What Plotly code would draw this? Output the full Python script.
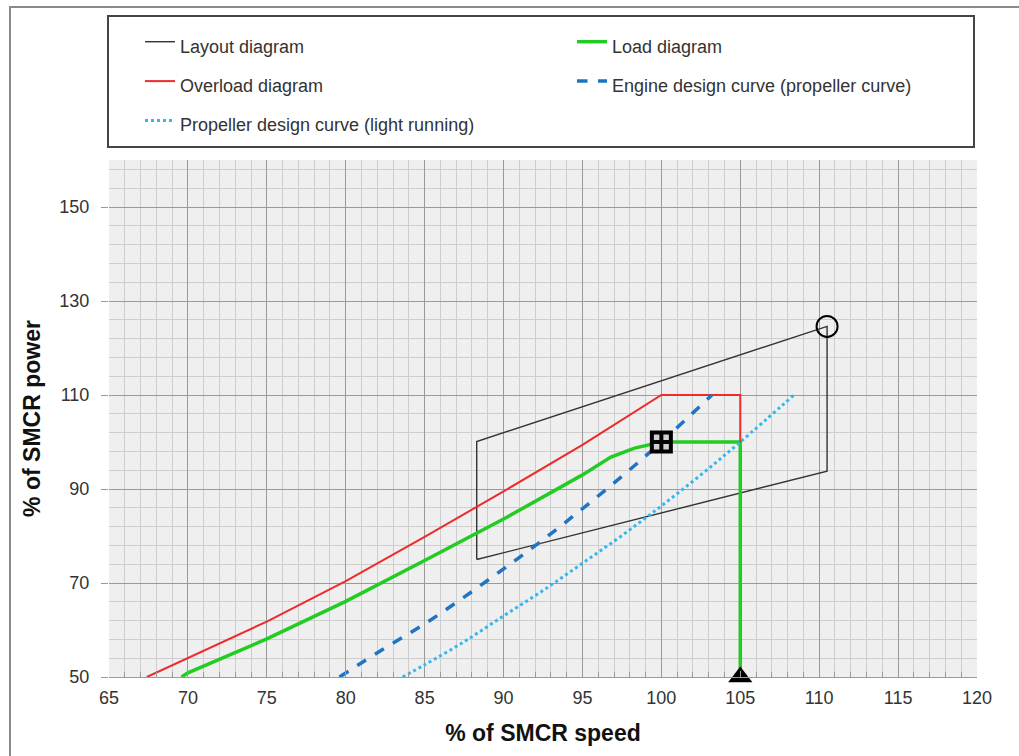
import plotly.graph_objects as go

# ---------------- data ----------------
layout_x = [88.3, 88.3, 110.5, 110.5, 88.3]
layout_y = [75.0, 100.1, 124.6, 93.8, 75.0]

load_x = [69.6, 70, 75, 80, 85, 90, 95, 96.8, 98.3, 100, 105, 105]
load_y = [50.0, 50.9, 58.1, 66.1, 74.8, 83.6, 93.0, 96.8, 98.7, 100, 100, 50]

overload_x = [67.4, 70, 75, 80, 85, 90, 95, 100, 105, 105]
overload_y = [50.0, 54.0, 61.8, 70.4, 79.8, 89.5, 99.4, 110, 110, 100]

engine_x = [79.6, 82.5, 85, 87.5, 90, 92.5, 95, 97.5, 100, 103.2]
engine_y = [50.0, 56.2, 61.3, 67.0, 73.0, 79.2, 85.8, 92.7, 100, 110]

light_x = [83.6, 85, 87.5, 90, 92.5, 95, 97.5, 100, 102.5, 105, 108.5]
light_y = [50.0, 52.6, 57.5, 63.0, 68.4, 74.2, 80.1, 86.4, 93.0, 100, 110.3]

smcr_x, smcr_y = [100], [100]          # square marker
speed_x, speed_y = [105], [50]         # triangle marker
lmp_x, lmp_y = [110.5], [124.6]        # open circle marker

x_ticks = [65, 70, 75, 80, 85, 90, 95, 100, 105, 110, 115, 120]
y_ticks = [50, 70, 90, 110, 130, 150]

FONT = "Liberation Sans, Arial, sans-serif"


def lg(t):
    return f'<span style="font-size:18px">{t}</span>'


fig = go.Figure()
fig.add_trace(go.Scatter(x=layout_x, y=layout_y, mode="lines", name=lg("Layout diagram"),
                         line=dict(color="#333333", width=1.4)))
fig.add_trace(go.Scatter(x=load_x, y=load_y, mode="lines", name=lg("Load diagram"),
                         line=dict(color="#22cc22", width=3.5)))
fig.add_trace(go.Scatter(x=overload_x, y=overload_y, mode="lines", name=lg("Overload diagram"),
                         line=dict(color="#ee2a2a", width=2)))
fig.add_trace(go.Scatter(x=engine_x, y=engine_y, mode="lines", line_shape="spline",
                         name=lg("Engine design curve (propeller curve)"),
                         line=dict(color="#1f74c4", width=3.5, dash="dash")))
fig.add_trace(go.Scatter(x=light_x, y=light_y, mode="lines", line_shape="spline",
                         name=lg("Propeller design curve (light running)"),
                         line=dict(color="#33b8ee", width=3, dash="dot")))

fig.add_trace(go.Scatter(x=smcr_x, y=smcr_y, mode="markers", showlegend=False,
                         marker=dict(symbol="square-cross", size=19, color="#d0d0d0",
                                     line=dict(color="#000000", width=4))))
fig.add_trace(go.Scatter(x=speed_x, y=speed_y, mode="markers", showlegend=False, cliponaxis=False,
                         marker=dict(symbol="triangle-up", size=21, color="#000000",
                                     line=dict(width=0))))
fig.add_trace(go.Scatter(x=lmp_x, y=lmp_y, mode="markers", showlegend=False, cliponaxis=False,
                         marker=dict(symbol="circle-open", size=21, color="#000000",
                                     line=dict(color="#000000", width=2))))

# outer frame (only top and left edges fall inside the page)
fig.add_shape(type="rect", xref="paper", yref="paper",
              x0=(10 - 109) / 868, x1=(1040 - 109) / 868,
              y0=(677 - 780) / 517, y1=(677 - 7) / 517,
              line=dict(color="#8a8a8a", width=2), fillcolor="rgba(0,0,0,0)", layer="below")

fig.update_layout(
    width=1019, height=756,
    margin=dict(l=109, r=42, t=160, b=79, autoexpand=False),
    paper_bgcolor="white",
    plot_bgcolor="#efefef",
    font=dict(family=FONT, color="#333333"),
    showlegend=True,
    legend=dict(
        orientation="h", xref="paper", yref="paper",
        x=(107 - 109) / 868, y=(677 - 15) / 517, xanchor="left", yanchor="top",
        bordercolor="#444444", borderwidth=2, bgcolor="white",
        font=dict(family=FONT, size=28, color="#333333"),
        entrywidth=356, entrywidthmode="pixels", indentation=31,
        traceorder="normal",
    ),
    xaxis=dict(
        range=[65, 120], tickvals=x_ticks, ticktext=[str(v) for v in x_ticks],
        showgrid=True, gridcolor="#9a9a9a", gridwidth=1,
        zeroline=False, showline=True, linecolor="#9a9a9a", linewidth=1,
        ticks="inside", ticklen=6, tickcolor="#9a9a9a",
        tickfont=dict(family=FONT, size=18, color="#333333"),
        ticklabelstandoff=4,
        minor=dict(dtick=1, showgrid=True, gridcolor="#cdcdcd", gridwidth=1,
                   ticks="inside", ticklen=5, tickcolor="#9a9a9a"),
        title=dict(text="<b>% of SMCR speed</b>", standoff=18,
                   font=dict(family=FONT, size=23, color="#111111")),
        fixedrange=True,
    ),
    yaxis=dict(
        range=[50, 160], tickvals=y_ticks, ticktext=[str(v) for v in y_ticks],
        showgrid=True, gridcolor="#9a9a9a", gridwidth=1,
        zeroline=False, showline=False,
        ticks="outside", ticklen=7, tickcolor="#9a9a9a",
        tickfont=dict(family=FONT, size=18, color="#333333"),
        ticklabelstandoff=8,
        minor=dict(tick0=50, dtick=4, showgrid=True, gridcolor="#cdcdcd", gridwidth=1),
        title=dict(text="<b>% of SMCR power</b>", standoff=12,
                   font=dict(family=FONT, size=23, color="#111111")),
        fixedrange=True,
    ),
)

fig.write_html("out.html", config={"displayModeBar": False},
               post_script="document.body.style.margin='0px';")
